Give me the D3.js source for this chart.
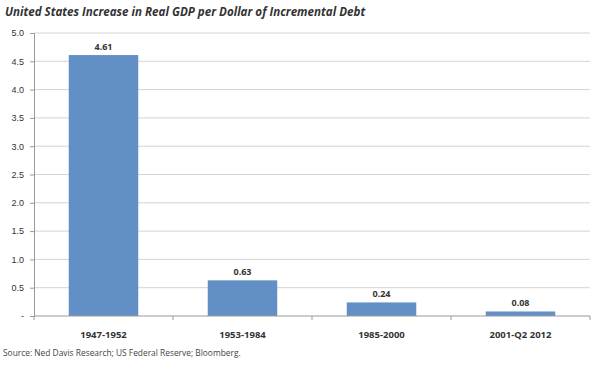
<!DOCTYPE html>
<html>
<head>
<meta charset="utf-8">
<script src="https://cdn.jsdelivr.net/npm/d3@7"></script>
<style>
  body { margin: 0; background: #fff; }
  svg { display: block; font-family: "Open Sans", "Liberation Sans", sans-serif; }
</style>
</head>
<body>
<div id="chart"></div>
<script>
// chart data
const periods = ["1947-1952", "1953-1984", "1985-2000", "2001-Q2 2012"];
const gdpPerDebt = [4.61, 0.63, 0.24, 0.08];
const yTicks = [0, 0.5, 1.0, 1.5, 2.0, 2.5, 3.0, 3.5, 4.0, 4.5, 5.0];

const width = 600, height = 371;
const margin = {top: 33, right: 10, bottom: 55, left: 34};

const svg = d3.select("#chart").append("svg")
    .attr("width", width)
    .attr("height", height);

// title
svg.append("text")
    .attr("x", 5)
    .attr("y", 16)
    .attr("font-size", 11.6)
    .attr("font-weight", "bold")
    .attr("font-style", "italic")
    .attr("fill", "#333")
    .text("United States Increase in Real GDP per Dollar of Incremental Debt");

const x = d3.scaleBand()
    .domain(periods)
    .range([margin.left, width - margin.right])
    .paddingInner(0.5)
    .paddingOuter(0.25);

const y = d3.scaleLinear()
    .domain([0, 5])
    .range([height - margin.bottom, margin.top]);

// gridlines
svg.append("g")
    .selectAll("line")
    .data(yTicks.filter(d => d > 0))
    .enter().append("line")
    .attr("x1", margin.left)
    .attr("x2", width - margin.right)
    .attr("y1", d => y(d))
    .attr("y2", d => y(d))
    .attr("stroke", "#d4d4d4")
    .attr("stroke-width", 1);

// y axis
const yAxis = svg.append("g")
    .attr("transform", `translate(${margin.left},0)`)
    .call(d3.axisLeft(y)
        .tickValues(yTicks)
        .tickSize(4)
        .tickPadding(6)
        .tickFormat(d => d === 0 ? "-" : d3.format(".1f")(d)));
yAxis.select(".domain").attr("stroke", "#999");
yAxis.selectAll(".tick line").attr("stroke", "#999");
yAxis.selectAll("text").attr("font-size", 9).attr("fill", "#333");

// bars
svg.append("g")
    .selectAll("rect")
    .data(gdpPerDebt)
    .enter().append("rect")
    .attr("x", (d, i) => x(periods[i]))
    .attr("y", d => y(d))
    .attr("width", x.bandwidth())
    .attr("height", d => y(0) - y(d))
    .attr("fill", "#618fc6");

// value labels
svg.append("g")
    .selectAll("text")
    .data(gdpPerDebt)
    .enter().append("text")
    .attr("x", (d, i) => x(periods[i]) + x.bandwidth() / 2)
    .attr("y", d => y(d) - 5)
    .attr("text-anchor", "middle")
    .attr("font-size", 9)
    .attr("font-weight", "bold")
    .attr("fill", "#333")
    .text(d => d3.format(".2f")(d));

// x axis
const step = x.step();
const xAxis = svg.append("g")
    .attr("transform", `translate(0,${y(0)})`);
xAxis.append("line")
    .attr("x1", margin.left)
    .attr("x2", width - margin.right)
    .attr("stroke", "#999");
xAxis.selectAll(".sep")
    .data(d3.range(periods.length + 1))
    .enter().append("line")
    .attr("class", "sep")
    .attr("x1", i => margin.left + i * step)
    .attr("x2", i => margin.left + i * step)
    .attr("y1", 0)
    .attr("y2", 4)
    .attr("stroke", "#999");
xAxis.selectAll(".lbl")
    .data(periods)
    .enter().append("text")
    .attr("class", "lbl")
    .attr("x", d => x(d) + x.bandwidth() / 2)
    .attr("y", 22)
    .attr("text-anchor", "middle")
    .attr("font-size", 9.5)
    .attr("font-weight", "bold")
    .attr("fill", "#333")
    .text(d => d);

// source note
svg.append("text")
    .attr("x", 3)
    .attr("y", 356)
    .attr("font-size", 8.4)
    .attr("fill", "#444")
    .text("Source: Ned Davis Research; US Federal Reserve; Bloomberg.");
</script>
</body>
</html>
